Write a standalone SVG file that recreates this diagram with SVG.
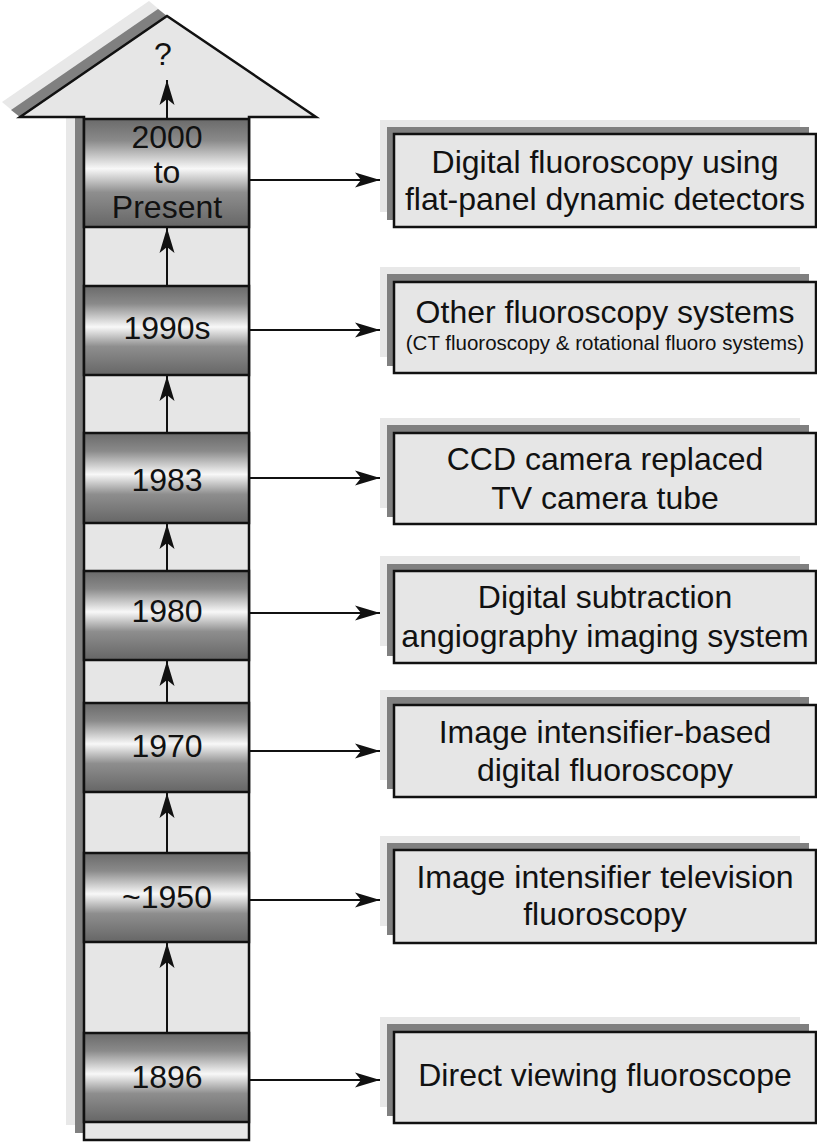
<svg xmlns="http://www.w3.org/2000/svg" width="817" height="1142" viewBox="0 0 817 1142">
<style>
.t{font-family:"Liberation Sans",Arial,Helvetica,sans-serif;font-size:32px;fill:#111;text-anchor:middle}
.s{font-size:20.5px}
.yr{fill:url(#cyl);stroke:#111;stroke-width:2.5}
.bx{fill:#e6e6e6;stroke:#111;stroke-width:2.5}
.sd{fill:#808080}
.sl{fill:#e8e8e8}
.ln{stroke:#111;stroke-width:2;fill:none;marker-end:url(#ah)}
</style>
<defs>
<linearGradient id="cyl" x1="0" y1="0" x2="0" y2="1">
<stop offset="0" stop-color="#6a6a6a"/>
<stop offset="0.2" stop-color="#8a8a8a"/>
<stop offset="0.46" stop-color="#f8f8f8"/>
<stop offset="0.68" stop-color="#8e8e8e"/>
<stop offset="1" stop-color="#666"/>
</linearGradient>
<marker id="ah" markerUnits="userSpaceOnUse" viewBox="0 0 25 16" refX="25" refY="8" markerWidth="25" markerHeight="16" orient="auto">
<path d="M0,0.5 L25,8 L0,15.5 L6,8 Z" fill="#111"/>
</marker>
</defs>

<g id="timeline-arrow">
<polygon class="sl" points="149,1 2,102 20,117 167,16"/>
<polygon class="sd" points="158,9 11,110 20,117 167,16"/>
<rect class="sl" x="66" y="110" width="18" height="1015"/>
<rect class="sd" x="75" y="110" width="9" height="1023"/>
<polygon points="20,117 167,16 316,117 249,117 249,1140 84,1140 84,117 20,117" fill="#e6e6e6" stroke="#111" stroke-width="2.5" stroke-linejoin="miter"/>
<text class="t" x="163" y="65">?</text>
</g>

<g id="y2000"><rect class="yr" x="84" y="119" width="165" height="108"/>
<text class="t" x="167" y="148">2000</text><text class="t" x="167" y="183">to</text><text class="t" x="167" y="218">Present</text></g>
<g id="y1990"><rect class="yr" x="84" y="286" width="165" height="89"/><text class="t" x="167" y="339">1990s</text></g>
<g id="y1983"><rect class="yr" x="84" y="433" width="165" height="90"/><text class="t" x="167" y="491">1983</text></g>
<g id="y1980"><rect class="yr" x="84" y="571" width="165" height="89"/><text class="t" x="167" y="622">1980</text></g>
<g id="y1970"><rect class="yr" x="84" y="703" width="165" height="89"/><text class="t" x="167" y="757">1970</text></g>
<g id="y1950"><rect class="yr" x="84" y="853" width="165" height="89"/><text class="t" x="167" y="908">~1950</text></g>
<g id="y1896"><rect class="yr" x="84" y="1033" width="165" height="89"/><text class="t" x="167" y="1088">1896</text></g>

<g id="e1"><rect class="sl" x="380" y="120" width="420" height="92"/><rect class="sd" x="387" y="127" width="422" height="93"/><rect class="bx" x="394" y="134" width="422" height="93"/>
<text class="t" x="605" y="173">Digital fluoroscopy using</text><text class="t" x="605" y="210">flat-panel dynamic detectors</text></g>
<g id="e2"><rect class="sl" x="380" y="267" width="420" height="90"/><rect class="sd" x="387" y="274" width="422" height="92"/><rect class="bx" x="394" y="282" width="422" height="91"/>
<text class="t" x="605" y="323">Other fluoroscopy systems</text><text class="t s" x="605" y="350">(CT fluoroscopy &amp; rotational fluoro systems)</text></g>
<g id="e3"><rect class="sl" x="380" y="418" width="420" height="90"/><rect class="sd" x="387" y="425" width="422" height="92"/><rect class="bx" x="394" y="433" width="422" height="91"/>
<text class="t" x="605" y="470">CCD camera replaced</text><text class="t" x="605" y="509">TV camera tube</text></g>
<g id="e4"><rect class="sl" x="380" y="556" width="420" height="90"/><rect class="sd" x="387" y="564" width="422" height="92"/><rect class="bx" x="394" y="571" width="422" height="92"/>
<text class="t" x="605" y="608">Digital subtraction</text><text class="t" x="605" y="647">angiography imaging system</text></g>
<g id="e5"><rect class="sl" x="380" y="690" width="420" height="90"/><rect class="sd" x="387" y="697" width="422" height="92"/><rect class="bx" x="394" y="705" width="422" height="92"/>
<text class="t" x="605" y="743">Image intensifier-based</text><text class="t" x="605" y="781">digital fluoroscopy</text></g>
<g id="e6"><rect class="sl" x="380" y="836" width="420" height="90"/><rect class="sd" x="387" y="843" width="422" height="92"/><rect class="bx" x="394" y="850" width="422" height="93"/>
<text class="t" x="605" y="888">Image intensifier television</text><text class="t" x="605" y="925">fluoroscopy</text></g>
<g id="e7"><rect class="sl" x="380" y="1017" width="420" height="90"/><rect class="sd" x="387" y="1024" width="422" height="92"/><rect class="bx" x="394" y="1032" width="422" height="91"/>
<text class="t" x="605" y="1086">Direct viewing fluoroscope</text></g>

<g id="connectors">
<line class="ln" x1="167" y1="119" x2="167" y2="80"/>
<line class="ln" x1="167" y1="286" x2="167" y2="228"/>
<line class="ln" x1="167" y1="433" x2="167" y2="376"/>
<line class="ln" x1="167" y1="571" x2="167" y2="524"/>
<line class="ln" x1="167" y1="703" x2="167" y2="661"/>
<line class="ln" x1="167" y1="853" x2="167" y2="793"/>
<line class="ln" x1="167" y1="1033" x2="167" y2="943"/>
<line class="ln" x1="249" y1="180" x2="380" y2="180"/>
<line class="ln" x1="249" y1="330" x2="380" y2="330"/>
<line class="ln" x1="249" y1="478" x2="380" y2="478"/>
<line class="ln" x1="249" y1="613" x2="380" y2="613"/>
<line class="ln" x1="249" y1="751" x2="380" y2="751"/>
<line class="ln" x1="249" y1="900" x2="380" y2="900"/>
<line class="ln" x1="249" y1="1080" x2="380" y2="1080"/>
</g>
</svg>
